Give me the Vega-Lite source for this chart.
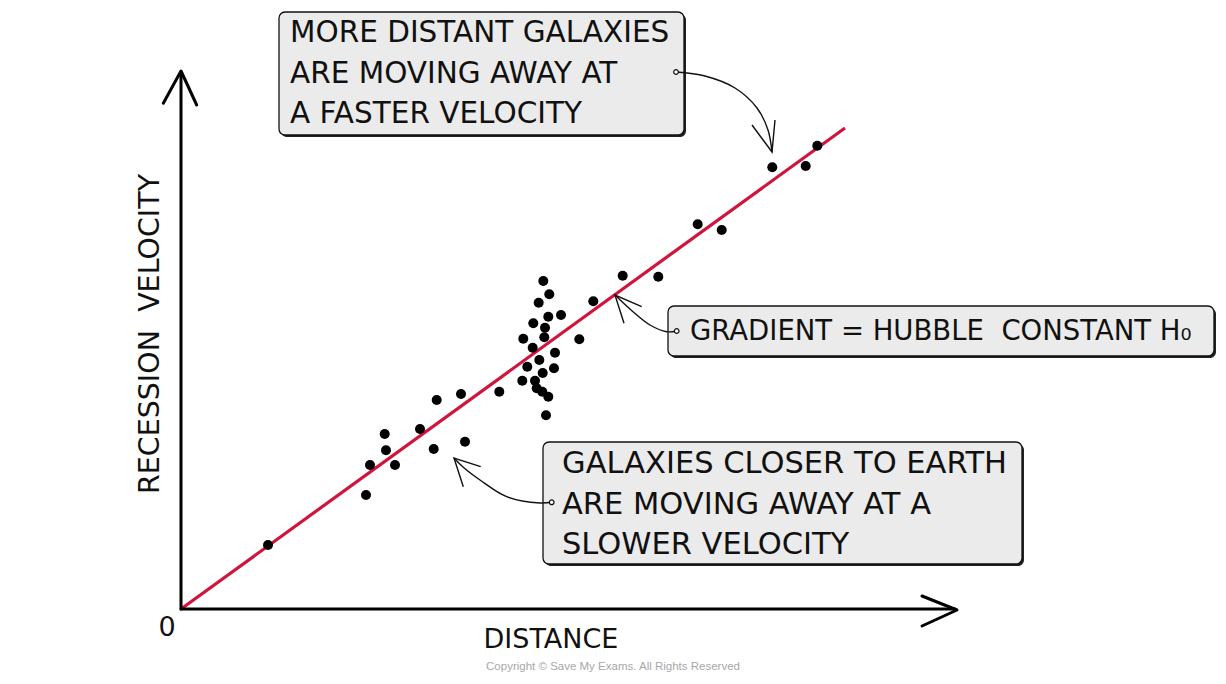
{
  "$schema": "https://vega.github.io/schema/vega-lite/v6.json",
  "width": 1226,
  "height": 684,
  "autosize": {"type": "fit", "contains": "padding"},
  "padding": 0,
  "background": "white",
  "config": {"view": {"stroke": null}},
  "datasets": {
    "galaxies": [
      {"distance": 36.23, "velocity": 32.8}, {"distance": 36.83, "velocity": 31.47}, {"distance": 35.77, "velocity": 30.63},
      {"distance": 36.73, "velocity": 29.23}, {"distance": 38.0, "velocity": 29.4}, {"distance": 35.23, "velocity": 28.57},
      {"distance": 36.4, "velocity": 28.13}, {"distance": 36.33, "velocity": 27.17}, {"distance": 34.23, "velocity": 27.03},
      {"distance": 39.83, "velocity": 26.97}, {"distance": 35.17, "velocity": 26.13}, {"distance": 37.4, "velocity": 25.63},
      {"distance": 35.83, "velocity": 24.9}, {"distance": 34.63, "velocity": 24.23}, {"distance": 37.3, "velocity": 24.07},
      {"distance": 36.17, "velocity": 23.6}, {"distance": 34.13, "velocity": 22.83}, {"distance": 35.4, "velocity": 22.83},
      {"distance": 35.57, "velocity": 22.07}, {"distance": 36.13, "velocity": 21.73}, {"distance": 36.73, "velocity": 21.23},
      {"distance": 36.5, "velocity": 19.37}, {"distance": 31.83, "velocity": 21.73}, {"distance": 28.0, "velocity": 21.5},
      {"distance": 25.57, "velocity": 20.9}, {"distance": 23.9, "velocity": 18.0}, {"distance": 20.37, "velocity": 17.5},
      {"distance": 20.5, "velocity": 15.87}, {"distance": 25.27, "velocity": 16.0}, {"distance": 28.4, "velocity": 16.73},
      {"distance": 41.23, "velocity": 30.77}, {"distance": 44.17, "velocity": 33.33}, {"distance": 18.9, "velocity": 14.4},
      {"distance": 21.4, "velocity": 14.4}, {"distance": 18.5, "velocity": 11.4}, {"distance": 8.7, "velocity": 6.4},
      {"distance": 47.73, "velocity": 33.23}, {"distance": 51.67, "velocity": 38.47}, {"distance": 54.07, "velocity": 37.9},
      {"distance": 59.13, "velocity": 44.17}, {"distance": 62.47, "velocity": 44.3}, {"distance": 63.63, "velocity": 46.33}
    ],
    "fit": [
      {"distance": 0, "velocity": 0},
      {"distance": 66.4, "velocity": 48.1}
    ],
    "axes": [
      {"part": "yaxis", "seq": 1, "distance": 0, "velocity": 0},
      {"part": "yaxis", "seq": 2, "distance": 0, "velocity": 53.7},
      {"part": "yhead", "seq": 1, "distance": -1.77, "velocity": 50.57},
      {"part": "yhead", "seq": 2, "distance": 0, "velocity": 53.8},
      {"part": "yhead", "seq": 3, "distance": 1.57, "velocity": 50.4},
      {"part": "xaxis", "seq": 1, "distance": 0, "velocity": 0},
      {"part": "xaxis", "seq": 2, "distance": 77.4, "velocity": 0},
      {"part": "xhead", "seq": 1, "distance": 74.1, "velocity": 1.3},
      {"part": "xhead", "seq": 2, "distance": 77.6, "velocity": -0.1},
      {"part": "xhead", "seq": 3, "distance": 74.1, "velocity": -1.7}
    ],
    "curves": [
      {"part": "top", "seq": 1, "distance": 49.5, "velocity": 53.7},
      {"part": "top", "seq": 2, "distance": 52.4, "velocity": 53.3},
      {"part": "top", "seq": 3, "distance": 55.4, "velocity": 52.1},
      {"part": "top", "seq": 4, "distance": 57.6, "velocity": 50.1},
      {"part": "top", "seq": 5, "distance": 58.7, "velocity": 47.9},
      {"part": "top", "seq": 6, "distance": 59.1, "velocity": 45.7},
      {"part": "mid", "seq": 1, "distance": 49.57, "velocity": 27.8},
      {"part": "mid", "seq": 2, "distance": 48.57, "velocity": 27.73},
      {"part": "mid", "seq": 3, "distance": 46.9, "velocity": 28.4},
      {"part": "mid", "seq": 4, "distance": 45.2, "velocity": 29.73},
      {"part": "mid", "seq": 5, "distance": 43.4, "velocity": 31.4},
      {"part": "low", "seq": 1, "distance": 37.07, "velocity": 10.67},
      {"part": "low", "seq": 2, "distance": 35.9, "velocity": 10.6},
      {"part": "low", "seq": 3, "distance": 32.57, "velocity": 11.23},
      {"part": "low", "seq": 4, "distance": 29.9, "velocity": 12.9},
      {"part": "low", "seq": 5, "distance": 28.2, "velocity": 14.2},
      {"part": "low", "seq": 6, "distance": 27.3, "velocity": 15.1}
    ],
    "heads": [
      {"part": "top", "seq": 1, "distance": 57.1, "velocity": 48.4},
      {"part": "top", "seq": 2, "distance": 59.1, "velocity": 45.7},
      {"part": "top", "seq": 3, "distance": 59.4, "velocity": 48.9},
      {"part": "mid", "seq": 1, "distance": 46.07, "velocity": 30.23},
      {"part": "mid", "seq": 2, "distance": 43.4, "velocity": 31.4},
      {"part": "mid", "seq": 3, "distance": 44.3, "velocity": 28.57},
      {"part": "low", "seq": 1, "distance": 29.97, "velocity": 14.23},
      {"part": "low", "seq": 2, "distance": 27.3, "velocity": 15.1},
      {"part": "low", "seq": 3, "distance": 28.23, "velocity": 12.23}
    ],
    "anchors": [
      {"part": "top", "distance": 49.5, "velocity": 53.7},
      {"part": "mid", "distance": 49.57, "velocity": 27.8},
      {"part": "low", "distance": 37.07, "velocity": 10.67}
    ],
    "boxes": [
      {"box": "top", "distance": 9.8, "distance2": 50.3, "velocity": 59.7, "velocity2": 47.4},
      {"box": "mid", "distance": 48.7, "distance2": 103.3, "velocity": 30.3, "velocity2": 25.3},
      {"box": "low", "distance": 36.2, "distance2": 84.1, "velocity": 16.7, "velocity2": 4.5}
    ],
    "notes": [
      {"box": "top", "distance": 10.9, "velocity": 57.6, "label": "MORE DISTANT GALAXIES"},
      {"box": "top", "distance": 10.9, "velocity": 53.5, "label": "ARE MOVING AWAY AT"},
      {"box": "top", "distance": 10.9, "velocity": 49.5, "label": "A FASTER VELOCITY"},
      {"box": "mid", "distance": 50.9, "velocity": 27.7, "label": "GRADIENT = HUBBLE\u00a0\u00a0CONSTANT H₀"},
      {"box": "low", "distance": 38.1, "velocity": 14.5, "label": "GALAXIES CLOSER TO EARTH"},
      {"box": "low", "distance": 38.1, "velocity": 10.4, "label": "ARE MOVING AWAY AT A"},
      {"box": "low", "distance": 38.1, "velocity": 6.4, "label": "SLOWER VELOCITY"}
    ],
    "axisLabels": [
      {"kind": "origin", "distance": -1.4, "velocity": -1.9, "label": "0"},
      {"kind": "x", "distance": 37.0, "velocity": -3.1, "label": "DISTANCE"},
      {"kind": "y", "distance": -3.1, "velocity": 27.5, "label": "RECESSION\u00a0\u00a0VELOCITY"},
      {"kind": "credit", "distance": 43.2, "velocity": -5.8, "label": "Copyright © Save My Exams. All Rights Reserved"}
    ]
  },
  "encoding": {
    "x": {"field": "distance", "type": "quantitative", "scale": {"domain": [-18.1, 104.5], "nice": false, "zero": false}, "axis": null},
    "y": {"field": "velocity", "type": "quantitative", "scale": {"domain": [-7.5, 60.9], "nice": false, "zero": false}, "axis": null}
  },
  "layer": [
    {
      "data": {"name": "boxes"},
      "mark": {"type": "rect", "fill": "#222222", "cornerRadius": 6, "xOffset": 2, "x2Offset": 2, "yOffset": 2, "y2Offset": 2},
      "encoding": {"x2": {"field": "distance2"}, "y2": {"field": "velocity2"}}
    },
    {
      "data": {"name": "boxes"},
      "mark": {"type": "rect", "fill": "#ebebeb", "stroke": "#111111", "strokeWidth": 1.3, "cornerRadius": 6},
      "encoding": {"x2": {"field": "distance2"}, "y2": {"field": "velocity2"}}
    },
    {
      "data": {"name": "fit"},
      "mark": {"type": "line", "color": "#d0143c", "strokeWidth": 3.2},
      "encoding": {}
    },
    {
      "data": {"name": "galaxies"},
      "mark": {"type": "point", "filled": true, "color": "#000000", "opacity": 1, "size": 100}
    },
    {
      "data": {"name": "axes"},
      "mark": {"type": "line", "color": "#000000", "strokeWidth": 3, "strokeCap": "round", "strokeJoin": "round"},
      "encoding": {"detail": {"field": "part"}, "order": {"field": "seq"}}
    },
    {
      "data": {"name": "curves"},
      "mark": {"type": "line", "color": "#111111", "strokeWidth": 1.4, "interpolate": "catmull-rom"},
      "encoding": {"detail": {"field": "part"}, "order": {"field": "seq"}}
    },
    {
      "data": {"name": "heads"},
      "mark": {"type": "line", "color": "#111111", "strokeWidth": 1.4, "strokeJoin": "miter"},
      "encoding": {"detail": {"field": "part"}, "order": {"field": "seq"}}
    },
    {
      "data": {"name": "anchors"},
      "mark": {"type": "point", "filled": true, "fill": "#ffffff", "stroke": "#111111", "strokeWidth": 1.2, "opacity": 1, "size": 22}
    },
    {
      "data": {"name": "notes"},
      "transform": [{"filter": "datum.box === 'top'"}],
      "mark": {"type": "text", "align": "left", "baseline": "middle", "font": "DejaVu Sans", "fontSize": 29.5, "color": "#111111"},
      "encoding": {"text": {"field": "label"}}
    },
    {
      "data": {"name": "notes"},
      "transform": [{"filter": "datum.box === 'mid'"}],
      "mark": {"type": "text", "align": "left", "baseline": "middle", "font": "DejaVu Sans", "fontSize": 27.5, "color": "#111111"},
      "encoding": {"text": {"field": "label"}}
    },
    {
      "data": {"name": "notes"},
      "transform": [{"filter": "datum.box === 'low'"}],
      "mark": {"type": "text", "align": "left", "baseline": "middle", "font": "DejaVu Sans", "fontSize": 30.5, "color": "#111111"},
      "encoding": {"text": {"field": "label"}}
    },
    {
      "data": {"name": "axisLabels"},
      "transform": [{"filter": "datum.kind === 'origin' || datum.kind === 'x'"}],
      "mark": {"type": "text", "align": "center", "baseline": "middle", "font": "DejaVu Sans", "fontSize": 27, "color": "#111111"},
      "encoding": {"text": {"field": "label"}}
    },
    {
      "data": {"name": "axisLabels"},
      "transform": [{"filter": "datum.kind === 'y'"}],
      "mark": {"type": "text", "align": "center", "baseline": "middle", "angle": 270, "font": "DejaVu Sans", "fontSize": 28.5, "color": "#111111"},
      "encoding": {"text": {"field": "label"}}
    },
    {
      "data": {"name": "axisLabels"},
      "transform": [{"filter": "datum.kind === 'credit'"}],
      "mark": {"type": "text", "align": "center", "baseline": "middle", "font": "Liberation Sans", "fontSize": 11.5, "color": "#a8a8a8"},
      "encoding": {"text": {"field": "label"}}
    }
  ]
}
